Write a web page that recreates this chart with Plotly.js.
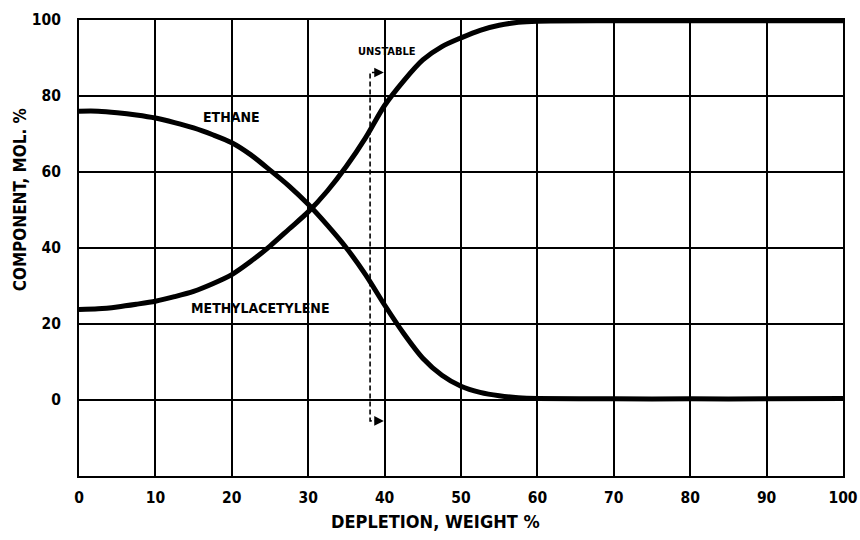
<!DOCTYPE html>
<html>
<head>
<meta charset="utf-8">
<script src="https://cdn.plot.ly/plotly-3.0.1.min.js"></script>
<style>html,body{margin:0;padding:0;background:#fff;}#chart{width:860px;height:540px;}</style>
</head>
<body>
<div id="chart"></div>
<script>
// Depletion, weight %
const depletion = [0, 2.5, 5, 7.5, 10, 12.5, 15, 17.5, 20, 22.5, 25, 27.5, 30, 32.5, 35, 37.5, 40, 42.5, 45, 47.5, 50, 52.5, 55, 57.5, 60, 70, 80, 90, 100];
// Ethane, mol %
const ethane = [76, 76, 75.6, 75, 74.2, 73, 71.6, 69.8, 67.7, 64.5, 60.5, 56.3, 51.5, 46, 40, 33, 25, 17.5, 11, 6.5, 3.6, 2, 1.1, 0.6, 0.4, 0.3, 0.3, 0.3, 0.4];
// Methylacetylene, mol %
const methyl = [23.8, 24, 24.5, 25.2, 26, 27.2, 28.6, 30.6, 33, 36.5, 40.5, 45, 49.5, 55, 61.5, 69, 77.5, 84, 89.5, 93, 95.3, 97.3, 98.6, 99.4, 99.7, 99.8, 99.8, 99.8, 99.8];
// "Unstable" bracket (dashed)
const bracketX = [39.0, 38.1, 38.1, 39.0];
const bracketY = [86.2, 86.2, -5.5, -5.5];
const xTicks = [0, 10, 20, 30, 40, 50, 60, 70, 80, 90, 100];
const yTicks = [0, 20, 40, 60, 80, 100];

const FAM = 'DejaVu Sans Condensed';
const lab = {family: FAM, size: 14, color: '#000', weight: 'bold'};
const tick = {family: FAM, size: 15.5, color: '#000', weight: 'bold'};

const traces = [
  {x: depletion, y: ethane, mode: 'lines', line: {color: '#000', width: 5, shape: 'spline', smoothing: 0.8}, hoverinfo: 'skip'},
  {x: depletion, y: methyl, mode: 'lines', line: {color: '#000', width: 5, shape: 'spline', smoothing: 0.8}, hoverinfo: 'skip'},
  {x: bracketX, y: bracketY, mode: 'lines', line: {color: '#000', width: 1.6, dash: '5px,3px'}, hoverinfo: 'skip'}
];

const layout = {
  width: 860, height: 540,
  margin: {l: 79, r: 17, t: 19.5, b: 64},
  paper_bgcolor: '#fff', plot_bgcolor: '#fff',
  showlegend: false,
  xaxis: {
    range: [0, 100], tickvals: xTicks, ticktext: xTicks.map(String),
    showgrid: true, gridcolor: '#000', gridwidth: 2,
    zeroline: false, showline: true, linecolor: '#000', linewidth: 2, mirror: true,
    ticks: '', tickfont: tick, ticklabelstandoff: 6
  },
  yaxis: {
    range: [-20, 100], tickvals: yTicks, ticktext: yTicks.map(String),
    showgrid: true, gridcolor: '#000', gridwidth: 2,
    zeroline: false, showline: true, linecolor: '#000', linewidth: 2, mirror: true,
    ticks: '', tickfont: tick, ticklabelstandoff: 13
  },
  annotations: [
    {x: 20.0, y: 74.6, xref: 'x', yref: 'y', text: 'ETHANE', showarrow: false, font: lab, xanchor: 'center', yanchor: 'middle'},
    {x: 23.7, y: 24.1, xref: 'x', yref: 'y', text: 'METHYLACETYLENE', showarrow: false, font: lab, xanchor: 'center', yanchor: 'middle'},
    {x: 40.3, y: 91.7, xref: 'x', yref: 'y', text: 'UNSTABLE', showarrow: false,
     font: {family: FAM, size: 11, color: '#000', weight: 'bold'}, xanchor: 'center', yanchor: 'middle'},
    {x: 39.9, y: 86.2, ax: 38.9, ay: 86.2, xref: 'x', yref: 'y', axref: 'x', ayref: 'y', text: '', showarrow: true,
     arrowhead: 2, arrowsize: 1.2, arrowwidth: 1.6, arrowcolor: '#000'},
    {x: 39.9, y: -5.5, ax: 38.9, ay: -5.5, xref: 'x', yref: 'y', axref: 'x', ayref: 'y', text: '', showarrow: true,
     arrowhead: 2, arrowsize: 1.2, arrowwidth: 1.6, arrowcolor: '#000'},
    {x: -0.0772, y: 0.6046, xref: 'paper', yref: 'paper', text: 'COMPONENT, MOL. %', textangle: -90, showarrow: false,
     font: {family: FAM, size: 17, color: '#000', weight: 'bold'}, xanchor: 'center', yanchor: 'middle'},
    {x: 0.4666, y: -0.1, xref: 'paper', yref: 'paper', text: 'DEPLETION, WEIGHT %', showarrow: false,
     font: {family: FAM, size: 18, color: '#000', weight: 'bold'}, xanchor: 'center', yanchor: 'middle'}
  ]
};

Plotly.newPlot('chart', traces, layout, {staticPlot: true, displayModeBar: false});
</script>
</body>
</html>
